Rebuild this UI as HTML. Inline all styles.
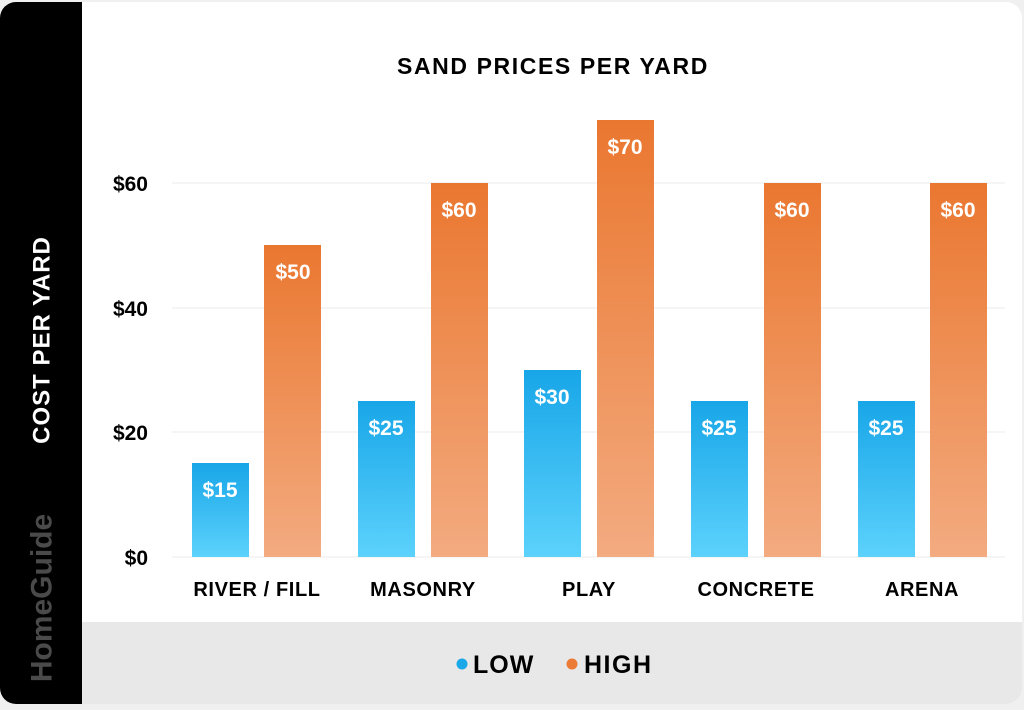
<!DOCTYPE html>
<html><head><style>
body{margin:0;width:1024px;height:705px;background:#f0f0f0;overflow:hidden;font-family:"Liberation Sans",sans-serif}
</style></head><body>
<svg width="1024" height="705" xmlns="http://www.w3.org/2000/svg">
<defs>
<linearGradient id="o" x1="0" y1="0" x2="0" y2="1"><stop offset="0" stop-color="#ea7730"/><stop offset="1" stop-color="#f3ab80"/></linearGradient>
<linearGradient id="b" x1="0" y1="0" x2="0" y2="1"><stop offset="0" stop-color="#18a6e8"/><stop offset="1" stop-color="#5cd2fc"/></linearGradient>
<clipPath id="c"><rect x="0" y="2" width="1022" height="702" rx="16"/></clipPath>
</defs>
<g clip-path="url(#c)">
<rect x="0" y="0" width="1024" height="705" fill="#fff"/>
<rect x="82" y="622" width="942" height="83" fill="#e8e8e8"/>
<rect x="0" y="0" width="82" height="705" fill="#000"/>
</g>
<text x="42" y="340" transform="rotate(-90 42 340)" text-anchor="middle" dominant-baseline="central" fill="#fff" font-size="24" font-weight="bold" letter-spacing="1">COST PER YARD</text>
<text x="42" y="598" transform="rotate(-90 42 598)" text-anchor="middle" dominant-baseline="central" fill="#4a4a4a" font-size="30" font-weight="bold">HomeGuide</text>
<text x="553" y="74" text-anchor="middle" font-size="23" font-weight="bold" fill="#000" letter-spacing="1.6">SAND PRICES PER YARD</text>
<g stroke="#ebebeb" stroke-width="1">
<line x1="172" y1="183" x2="1005" y2="183"/><line x1="172" y1="308" x2="1005" y2="308"/><line x1="172" y1="432" x2="1005" y2="432"/><line x1="172" y1="557" x2="1005" y2="557"/>
</g>
<g font-size="21" font-weight="bold" text-anchor="end" fill="#000">
<text x="148" y="191">$60</text><text x="148" y="316">$40</text><text x="148" y="440">$20</text><text x="148" y="565">$0</text>
</g>
<rect x="192" y="463" width="57" height="94" fill="url(#b)"/>
<rect x="264" y="245" width="57" height="312" fill="url(#o)"/>
<rect x="358" y="401" width="57" height="156" fill="url(#b)"/>
<rect x="431" y="183" width="57" height="374" fill="url(#o)"/>
<rect x="524" y="370" width="57" height="187" fill="url(#b)"/>
<rect x="597" y="120" width="57" height="437" fill="url(#o)"/>
<rect x="691" y="401" width="57" height="156" fill="url(#b)"/>
<rect x="764" y="183" width="57" height="374" fill="url(#o)"/>
<rect x="858" y="401" width="57" height="156" fill="url(#b)"/>
<rect x="930" y="183" width="57" height="374" fill="url(#o)"/>
<g font-size="21" font-weight="bold" text-anchor="middle" fill="#fff">
<text x="220" y="497">$15</text><text x="293" y="279">$50</text>
<text x="386" y="435">$25</text><text x="459" y="217">$60</text>
<text x="552" y="404">$30</text><text x="625" y="154">$70</text>
<text x="719" y="435">$25</text><text x="792" y="217">$60</text>
<text x="886" y="435">$25</text><text x="958" y="217">$60</text>
</g>
<g font-size="20" font-weight="bold" text-anchor="middle" fill="#000" letter-spacing="0.6">
<text x="257" y="596">RIVER / FILL</text><text x="423" y="596">MASONRY</text><text x="589" y="596">PLAY</text><text x="756" y="596">CONCRETE</text><text x="922" y="596">ARENA</text>
</g>
<circle cx="462" cy="664" r="5.5" fill="#1aa8e8"/>
<text x="473" y="673" font-size="25" font-weight="bold" letter-spacing="1">LOW</text>
<circle cx="572" cy="664" r="5.5" fill="#ea7a35"/>
<text x="584" y="673" font-size="25" font-weight="bold" letter-spacing="1.5">HIGH</text>
</svg>
</body></html>
